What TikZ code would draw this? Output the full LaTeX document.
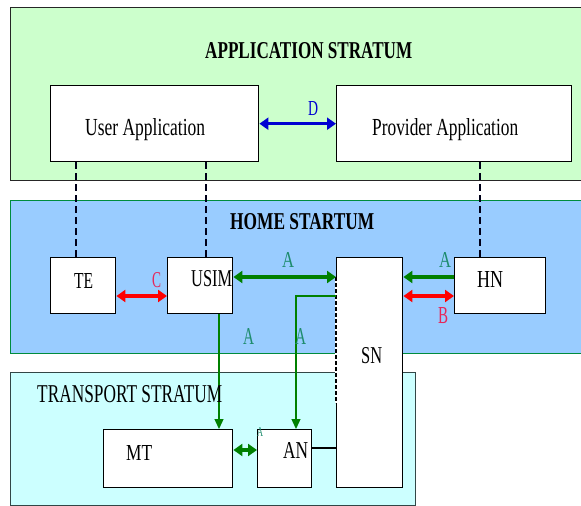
\documentclass[tikz,border=0pt]{standalone}
\usepackage{fontspec}
\setmainfont{Liberation Serif}
\usepackage{graphicx}
\usetikzlibrary{arrows.meta}
\definecolor{appfill}{RGB}{204,255,204}
\definecolor{homefill}{RGB}{153,204,255}
\definecolor{trfill}{RGB}{204,255,255}
\definecolor{homeline}{RGB}{0,140,60}
\definecolor{trline}{RGB}{50,70,70}
\definecolor{arrgreen}{RGB}{0,128,0}
\definecolor{lblgreen}{RGB}{30,140,110}
\definecolor{lblred}{RGB}{230,40,90}
\definecolor{arrblue}{RGB}{0,0,210}
\newcommand\fitt[3]{\resizebox{#1pt}{#2pt}{#3}}
\begin{document}
\begin{tikzpicture}[x=1pt,y=-1pt,
  stratum/.style={line width=1.3pt, inner sep=0, anchor=north west},
  box/.style={draw=black, line width=1.4pt, fill=white, inner sep=0, anchor=north west},
  txt/.style={inner sep=0, anchor=base west},
  thickarr/.style={line width=3.5pt, {Triangle[length=9pt,width=12pt]}-{Triangle[length=9pt,width=12pt]}},
  thinarr/.style={draw=arrgreen, line width=1.3pt, -{Triangle[length=10pt,width=9pt]}},
  dashlink/.style={draw=black!90!blue, line width=2pt, dash pattern=on 7pt off 4pt}]
\useasboundingbox (0,0) rectangle (581,506);
\fill[white] (0,0) rectangle (581,506);
% strata
\node[stratum, fill=appfill, draw=black!85, minimum width=580pt, minimum height=173pt] (app) at (10,7) {};
\node[stratum, fill=homefill, draw=homeline, minimum width=580pt, minimum height=153pt] (home) at (10,200) {};
\node[stratum, fill=trfill, draw=trline, minimum width=405pt, minimum height=133pt] (trans) at (10,372) {};
% helper coordinates
\coordinate (yA) at (0,277);
\coordinate (yC) at (0,296);
\coordinate (yD) at (0,403);
\coordinate (yM) at (0,450);
\coordinate (yN) at (0,448);
\coordinate (xTE) at (76,0);
\coordinate (xUS) at (206,0);
\coordinate (xHN) at (480,0);
\coordinate (xU) at (219,0);
\coordinate (xS) at (296,0);
% boxes
\node[box, minimum width=208pt, minimum height=76pt] (ua) at (50,85) {};
\node[box, minimum width=235pt, minimum height=76pt] (pa) at (336,85) {};
\node[box, minimum width=65pt, minimum height=56pt] (te) at (50,257) {};
\node[box, minimum width=65pt, minimum height=56pt] (usim) at (167,257) {};
\node[box, minimum width=91pt, minimum height=56pt] (hn) at (454,257) {};
\node[box, minimum width=129pt, minimum height=58pt] (mt) at (103,429) {};
\node[box, minimum width=54pt, minimum height=58pt] (an) at (257,429) {};
\node[box, minimum width=66pt, minimum height=230pt] (sn) at (336,257) {};
% dashed links
\draw[dashlink] (ua.south -| xTE) -- (te.north -| xTE);
\draw[dashlink] (ua.south -| xUS) -- (usim.north -| xUS);
\draw[dashlink] (pa.south -| xHN) -- (hn.north -| xHN);
% SN dashed left edge
\draw[white, line width=2.4pt] (sn.north west |- yA) -- (sn.north west |- yD);
\draw[black, line width=2.4pt, dash pattern=on 4pt off 2pt] (sn.north west |- yA) -- (sn.north west |- yD);
% arrows
\draw[thickarr, arrblue] (ua.east) -- (pa.west);
\draw[thickarr, red] (te.east |- yC) -- (usim.west |- yC);
\draw[thickarr, arrgreen] (usim.east |- yA) -- (sn.west |- yA);
\draw[line width=3.5pt, arrgreen, -{Triangle[length=9pt,width=12pt]}] (hn.west |- yA) -- (sn.east |- yA);
\draw[thickarr, red] (sn.east |- yC) -- (hn.west |- yC);
\draw[thickarr, arrgreen] (mt.east |- yM) -- (an.west |- yM);
\draw[thinarr] (usim.south -| xU) -- (mt.north -| xU);
\draw[thinarr] (sn.west |- yC) -| (an.north -| xS);
\draw[line width=1.3pt, black] (an.east |- yN) -- (sn.west |- yN);
% titles
\node[txt] (tapp) at (205,58) {\fitt{207}{16}{\bfseries APPLICATION STRATUM}};
\node[txt] (thome) at (230,229) {\fitt{144}{16}{\bfseries HOME STARTUM}};
\node[txt] (ttr) at (37,402) {\fitt{185}{17}{TRANSPORT STRATUM}};
% box texts
\node[txt] (tua) at (85,135) {\fitt{120}{17}{User Application}};
\node[txt] (tpa) at (372,135) {\fitt{146}{17}{Provider Application}};
\node[txt] (tte) at (74,288) {\fitt{19}{15}{TE}};
\node[txt] (tus) at (191,286) {\fitt{41}{16}{USIM}};
\node[txt] (thn) at (477,287) {\fitt{26}{16}{HN}};
\node[txt] (tsn) at (361,363) {\fitt{21}{16}{SN}};
\node[txt] (tmt) at (126,460) {\fitt{26}{15}{MT}};
\node[txt] (tan) at (283,458) {\fitt{25}{16}{AN}};
% interface labels
\node[txt, text=arrblue] (lD) at (308,115) {\fitt{10}{14}{D}};
\node[txt, text=lblred] (lC) at (152,287) {\fitt{9}{15}{C}};
\node[txt, text=lblgreen] (lA1) at (282,267) {\fitt{12}{15}{A}};
\node[txt, text=lblgreen] (lA2) at (439,267) {\fitt{12}{15}{A}};
\node[txt, text=lblred] (lB) at (438,323) {\fitt{10}{16}{B}};
\node[txt, text=lblgreen] (lA3) at (243,344) {\fitt{11}{16}{A}};
\node[txt, text=lblgreen] (lA4) at (295,344) {\fitt{11}{16}{A}};
\node[txt, text=lblgreen] (lA5) at (257,436) {\fitt{6}{9}{A}};
\end{tikzpicture}
\end{document}
